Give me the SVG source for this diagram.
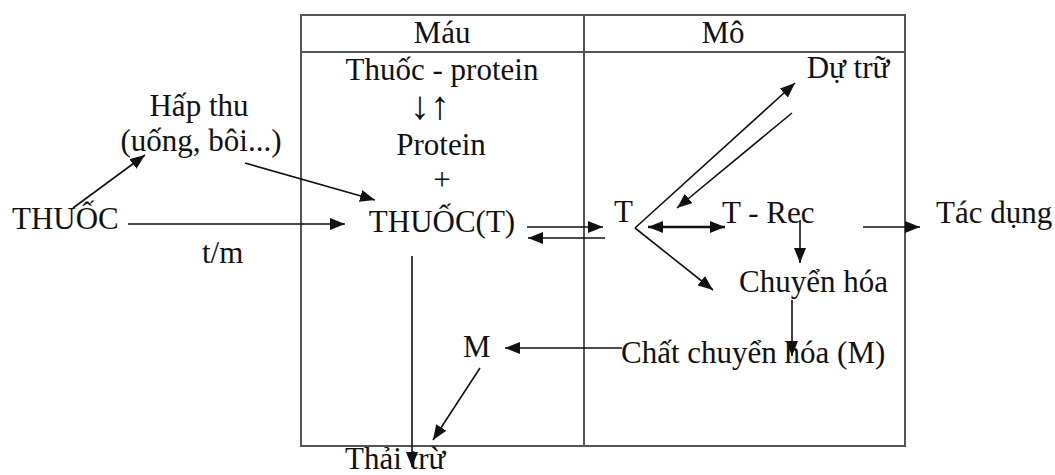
<svg xmlns="http://www.w3.org/2000/svg" width="1055" height="475" viewBox="0 0 1055 475">
<style>
text{font-family:"Liberation Serif","Times New Roman",serif;font-size:31px;fill:#111}
.m{text-anchor:middle}
.ar{font-size:40px}
.tb{fill:none;stroke:#555;stroke-width:2}
.c{fill:none;stroke:#111;stroke-width:1.6}
.thick{stroke-width:2.6}
</style>
<defs>
<marker id="ah" viewBox="0 0 15 12" refX="15" refY="6" markerWidth="15" markerHeight="12" markerUnits="userSpaceOnUse" orient="auto-start-reverse">
<path d="M0,0 L15,6 L0,12 Z" fill="#111"/>
</marker>
</defs>
<rect fill="#fff" x="0" y="0" width="1055" height="475"/>
<g id="table">
<rect class="tb" x="301" y="15" width="604" height="431"/>
<line class="tb" x1="301" y1="52" x2="905" y2="52"/>
<line class="tb" x1="584" y1="15" x2="584" y2="446"/>
<text class="m" x="442" y="43">Máu</text>
<text class="m" x="723" y="43">Mô</text>
</g>
<g id="n-thuoc"><text x="12" y="229">THUỐC</text></g>
<g id="n-hapthu"><text class="m" x="199" y="116">Hấp thu</text><text class="m" x="201" y="151">(uống, bôi...)</text></g>
<g id="n-tm"><text x="202" y="263">t/m</text></g>
<g id="n-thuoc-protein"><text class="m" x="442" y="80">Thuốc - protein</text><text class="m ar" x="430" y="119">↓↑</text></g>
<g id="n-protein"><text class="m" x="441" y="155">Protein</text><text class="m" x="442" y="190">+</text></g>
<g id="n-thuocT"><text class="m" x="442" y="232">THUỐC(T)</text></g>
<g id="n-T"><text x="614" y="222">T</text></g>
<g id="n-dutru"><text class="m" x="848" y="78">Dự trữ</text></g>
<g id="n-trec"><text x="722" y="223">T - Rec</text></g>
<g id="n-chuyenhoa"><text x="739" y="292">Chuyển hóa</text></g>
<g id="n-tacdung"><text x="936" y="223">Tác dụng</text></g>
<g id="n-chatchuyenhoa"><text x="621" y="363">Chất chuyển hóa (M)</text></g>
<g id="n-M"><text x="463" y="357">M</text></g>
<g id="n-thaitru"><text x="345" y="469">Thải trừ</text></g>
<g id="connectors">
<line class="c" x1="73" y1="208" x2="145" y2="155" marker-end="url(#ah)"/>
<line class="c" x1="245" y1="163" x2="375" y2="200" marker-end="url(#ah)"/>
<line class="c" x1="128" y1="224" x2="345" y2="224" marker-end="url(#ah)"/>
<line class="c" x1="527" y1="227" x2="603" y2="227" marker-end="url(#ah)"/>
<line class="c" x1="605" y1="238" x2="528" y2="238" marker-end="url(#ah)"/>
<line class="c" x1="635" y1="228" x2="795" y2="83" marker-end="url(#ah)"/>
<line class="c" x1="792" y1="113" x2="677" y2="208" marker-end="url(#ah)"/>
<line class="c thick" x1="648" y1="227" x2="725" y2="227" marker-start="url(#ah)" marker-end="url(#ah)"/>
<line class="c" x1="800" y1="220" x2="800" y2="263" marker-end="url(#ah)"/>
<line class="c" x1="635" y1="228" x2="713" y2="290" marker-end="url(#ah)"/>
<line class="c" x1="863" y1="227" x2="920" y2="227" marker-end="url(#ah)"/>
<line class="c" x1="792" y1="300" x2="792" y2="356" marker-end="url(#ah)"/>
<line class="c" x1="622" y1="348" x2="505" y2="348" marker-end="url(#ah)"/>
<line class="c" x1="480" y1="368" x2="433" y2="440" marker-end="url(#ah)"/>
<line class="c" x1="412" y1="256" x2="412" y2="467" marker-end="url(#ah)"/>
</g>
</svg>
